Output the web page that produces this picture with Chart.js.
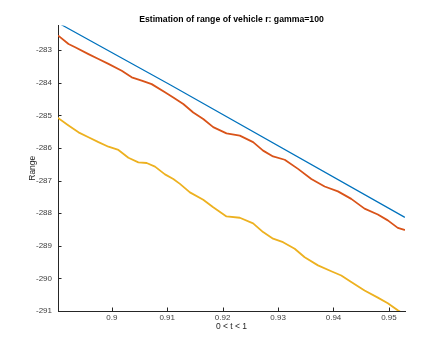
<!DOCTYPE html>
<html>
<head>
<meta charset="utf-8">
<script src="https://cdn.jsdelivr.net/npm/chart.js@4"></script>
<style>
  html, body { margin: 0; padding: 0; background: #fff; }
  #wrap { width: 447px; height: 349px; }
</style>
</head>
<body>
<div id="wrap"><canvas id="rangeChart" width="447" height="349"></canvas></div>
<script>
// values
const xTicks = [0.9, 0.91, 0.92, 0.93, 0.94, 0.95];
const yTicks = [-291, -290, -289, -288, -287, -286, -285, -284, -283];

const blueT = [0.8903, 0.9106, 0.9528];
const blueY = [-282.16, -284.07, -288.12];

const redT = [0.8904, 0.8922, 0.8934, 0.8958, 0.8976, 0.8994, 0.9018, 0.9036, 0.9054, 0.9072,
              0.9096, 0.9111, 0.9129, 0.9147, 0.9165, 0.9183, 0.9207, 0.9231, 0.9255, 0.9273,
              0.9291, 0.9312, 0.9336, 0.9360, 0.9384, 0.9408, 0.9432, 0.9456, 0.9480, 0.9498,
              0.9516, 0.9528];
const redY = [-282.56, -282.81, -282.91, -283.12, -283.27, -283.42, -283.63, -283.83, -283.93, -284.04,
              -284.29, -284.45, -284.65, -284.91, -285.11, -285.36, -285.55, -285.62, -285.82, -286.08,
              -286.26, -286.36, -286.64, -286.95, -287.18, -287.33, -287.56, -287.86, -288.04, -288.22,
              -288.45, -288.51];

const yellowT = [0.8903, 0.8922, 0.8940, 0.8958, 0.8976, 0.8994, 0.9012, 0.9030, 0.9048, 0.9063,
                 0.9078, 0.9096, 0.9111, 0.9123, 0.9141, 0.9165, 0.9183, 0.9207, 0.9231, 0.9255,
                 0.9273, 0.9291, 0.9309, 0.9330, 0.9348, 0.9372, 0.9396, 0.9414, 0.9432, 0.9456,
                 0.9480, 0.9498, 0.9516, 0.9528];
const yellowY = [-285.08, -285.31, -285.52, -285.67, -285.82, -285.96, -286.06, -286.30, -286.44, -286.46,
                 -286.57, -286.81, -286.95, -287.10, -287.36, -287.59, -287.82, -288.10, -288.14, -288.31,
                 -288.58, -288.78, -288.89, -289.09, -289.35, -289.60, -289.78, -289.91, -290.11, -290.37,
                 -290.59, -290.76, -290.98, -291.10];

const xMin = 0.8903, xMax = 0.9529;
const yMin = -291, yMax = -282.24;

const axisColor = "#262626";
const labelColor = "#404040";
const fontFamily = "'Liberation Sans', Arial, Helvetica, sans-serif";

function toPoints(ts, ys) {
  return ts.map((t, i) => ({ x: t, y: ys[i] }));
}

// MATLAB style ticks pointing into the plot
const innerTicks = {
  id: "innerTicks",
  afterDraw(chart) {
    const { ctx, chartArea, scales } = chart;
    ctx.save();
    ctx.strokeStyle = axisColor;
    ctx.lineWidth = 1;
    ctx.beginPath();
    scales.x.ticks.forEach(tk => {
      const px = Math.round(scales.x.getPixelForValue(tk.value)) + 0.5;
      ctx.moveTo(px, chartArea.bottom);
      ctx.lineTo(px, chartArea.bottom - 3.5);
    });
    scales.y.ticks.forEach(tk => {
      const py = Math.round(scales.y.getPixelForValue(tk.value)) + 0.5;
      ctx.moveTo(chartArea.left, py);
      ctx.lineTo(chartArea.left + 3.5, py);
    });
    ctx.stroke();
    ctx.restore();
  }
};

const ctx = document.getElementById("rangeChart").getContext("2d");

new Chart(ctx, {
  type: "line",
  data: {
    datasets: [
      { data: toPoints(blueT, blueY), borderColor: "#0072BD", borderWidth: 1.2 },
      { data: toPoints(redT, redY), borderColor: "#D95319", borderWidth: 1.8 },
      { data: toPoints(yellowT, yellowY), borderColor: "#EDB120", borderWidth: 1.8 }
    ]
  },
  options: {
    responsive: false,
    animation: false,
    events: [],
    layout: { padding: { left: 0, right: 42, top: 0, bottom: 0 } },
    elements: {
      point: { radius: 0 },
      line: { tension: 0, borderJoinStyle: "round", borderCapStyle: "round" }
    },
    plugins: {
      legend: { display: false },
      tooltip: { enabled: false },
      title: {
        display: true,
        text: "Estimation of range of vehicle r: gamma=100",
        color: "#000",
        fullSize: false,
        font: { family: fontFamily, size: 8.7, weight: "bold" },
        padding: { top: 14, bottom: 1 }
      }
    },
    scales: {
      x: {
        type: "linear",
        min: xMin,
        max: xMax,
        afterBuildTicks: s => { s.ticks = xTicks.map(v => ({ value: v })); },
        afterFit: s => { s.height = 38; },
        grid: { display: true, drawOnChartArea: false, drawTicks: false },
        border: { display: true, color: axisColor, width: 1 },
        ticks: {
          color: labelColor,
          padding: 2,
          maxRotation: 0,
          font: { family: fontFamily, size: 8 },
          callback: v => String(v)
        },
        title: {
          display: true,
          text: "0 < t < 1",
          color: "#262626",
          font: { family: fontFamily, size: 8.5 },
          padding: { top: 0, bottom: 17 }
        }
      },
      y: {
        type: "linear",
        min: yMin,
        max: yMax,
        afterBuildTicks: s => { s.ticks = yTicks.map(v => ({ value: v })); },
        afterFit: s => { s.width = 58; },
        grid: { display: true, drawOnChartArea: false, drawTicks: false },
        border: { display: true, color: axisColor, width: 1 },
        ticks: {
          color: labelColor,
          padding: 6,
          font: { family: fontFamily, size: 8 },
          callback: v => String(v)
        },
        title: {
          display: true,
          text: "Range",
          color: "#262626",
          font: { family: fontFamily, size: 8.5 },
          padding: { top: 27.5, bottom: 0 }
        }
      }
    }
  },
  plugins: [innerTicks]
});
</script>
</body>
</html>
